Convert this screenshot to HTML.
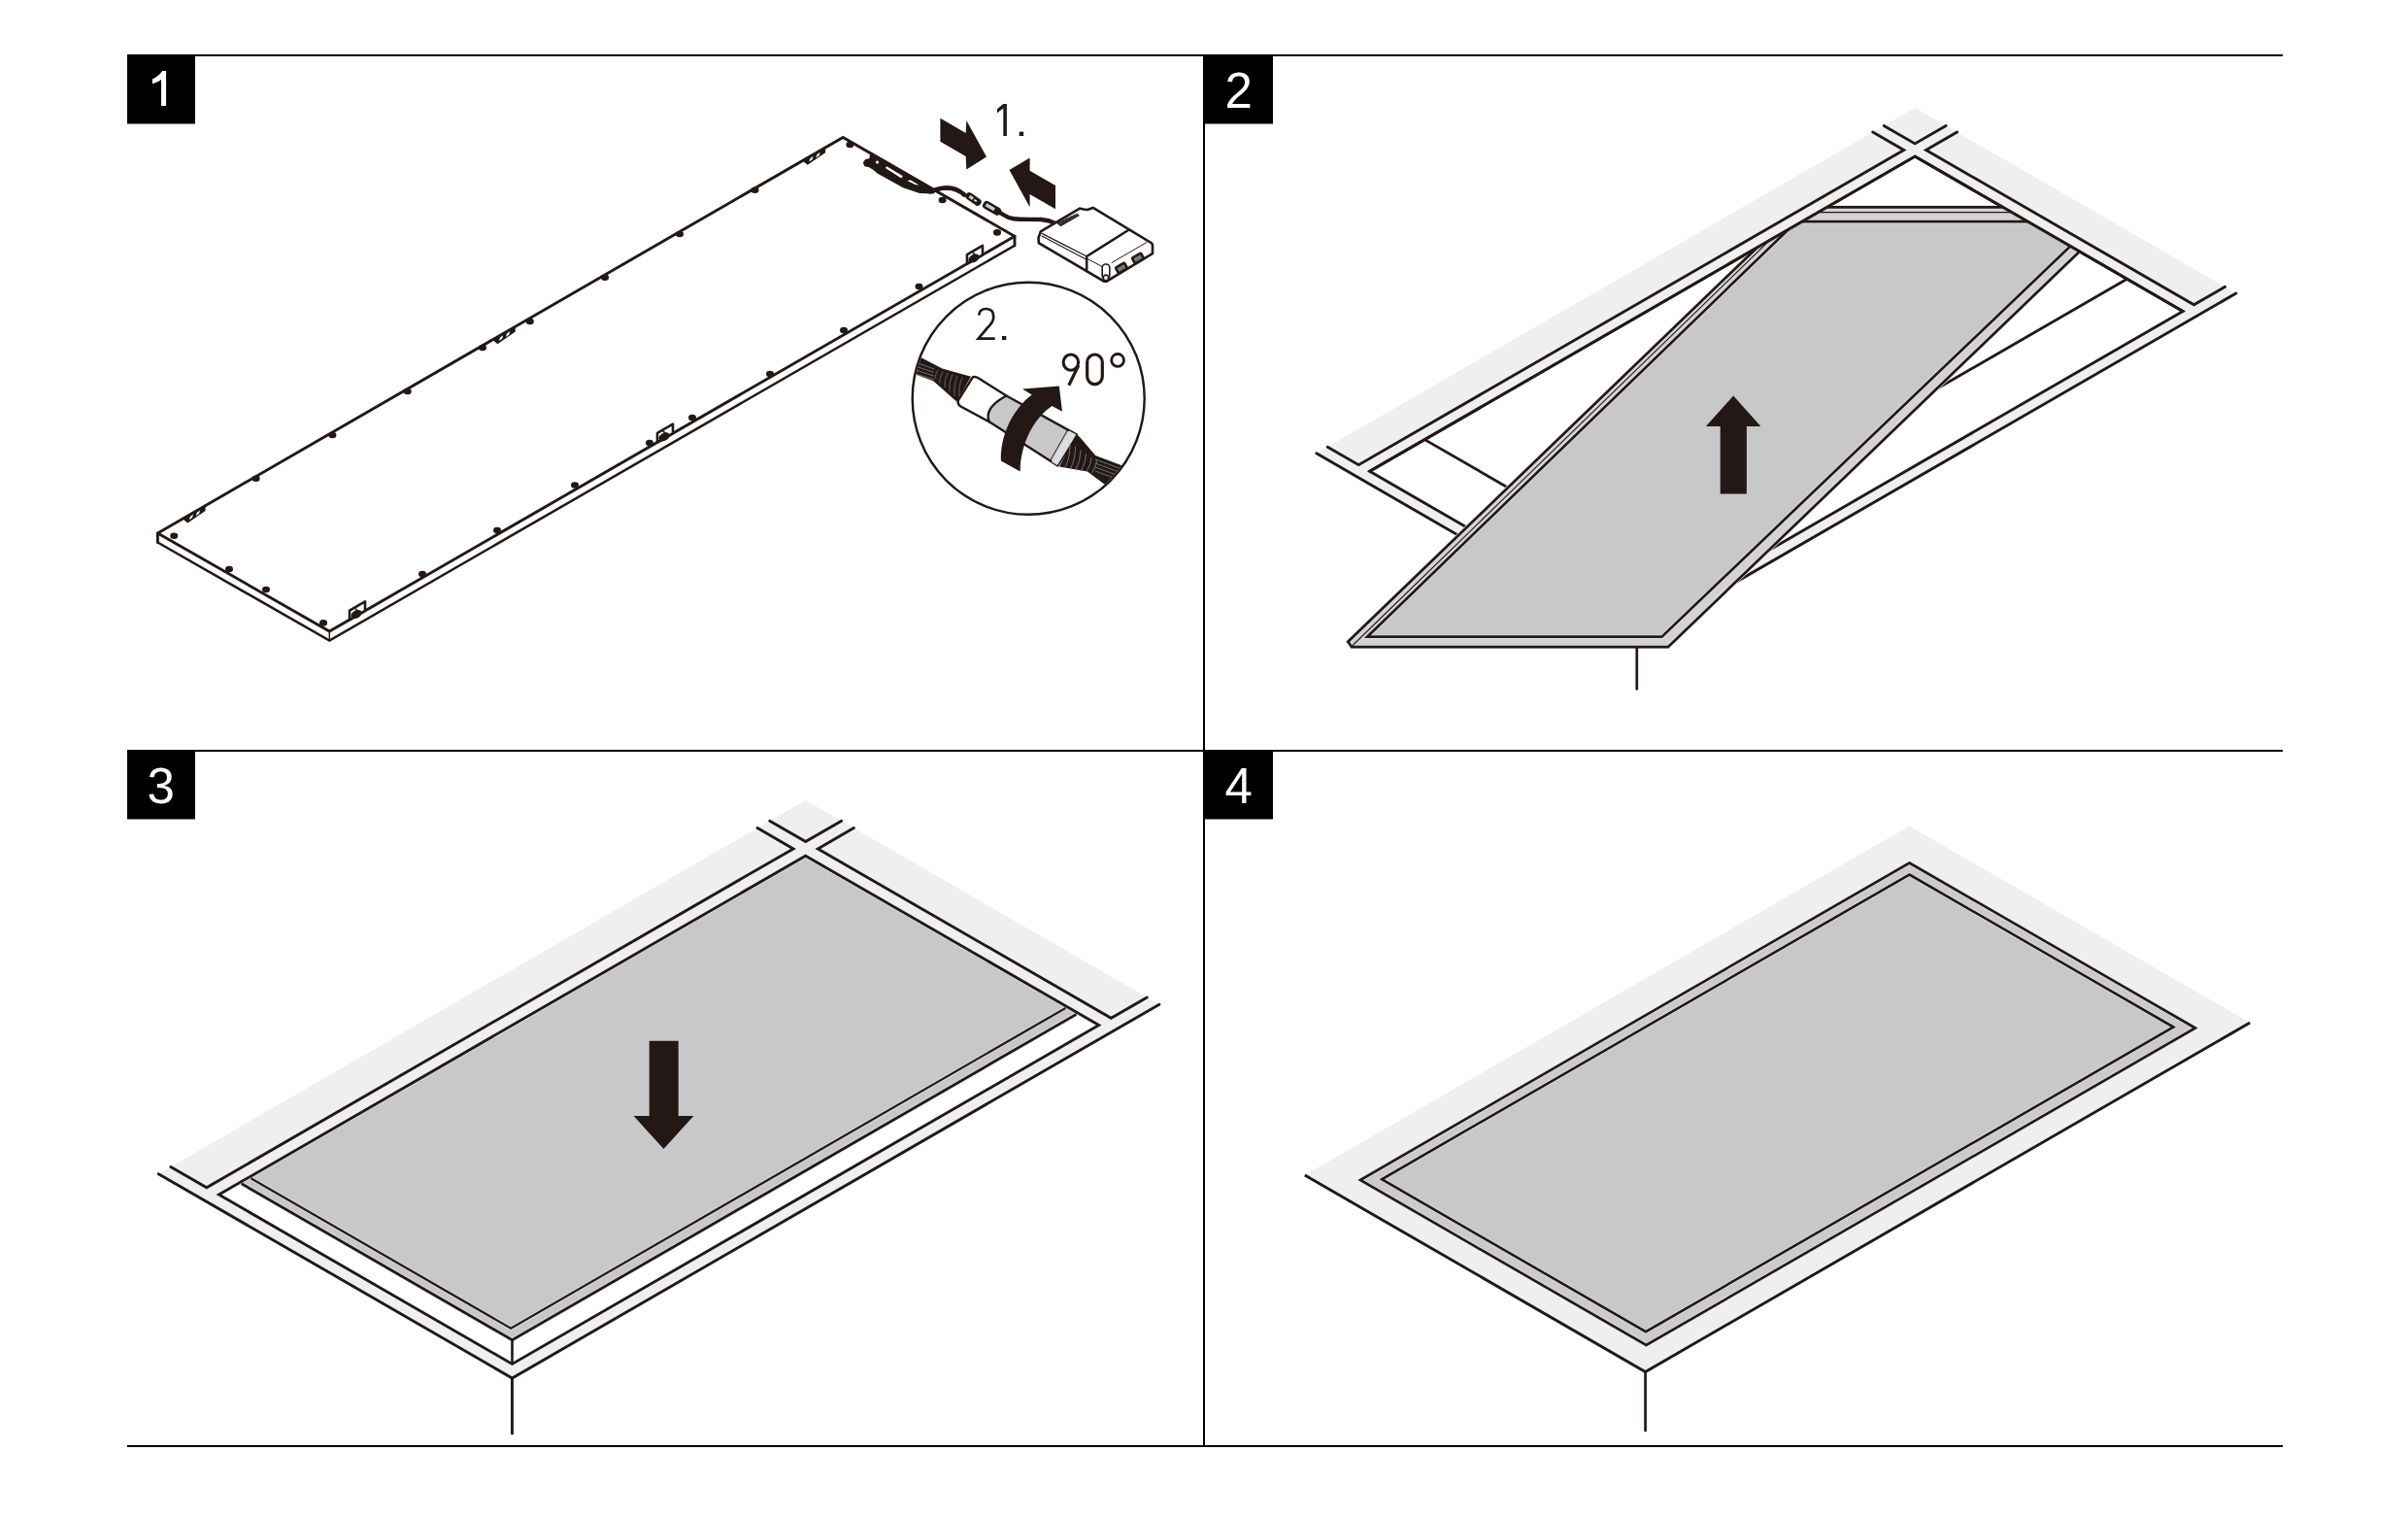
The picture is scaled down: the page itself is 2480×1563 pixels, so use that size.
<!DOCTYPE html><html><head><meta charset="utf-8"><style>html,body{margin:0;padding:0;background:#fff;overflow:hidden;}svg{display:block;}</style></head><body>
<svg width="2480" height="1563" viewBox="0 0 2480 1563">
<rect width="2480" height="1563" fill="#fff"/>
<polygon points="162.4,549 868.2,141.4 1045,243.3 1045,252.8 339.3,659.5 162.4,558.5" fill="#fff"/>
<polyline points="162.4,558.5 162.4,549 868.2,141.4 1045,243.3 1045,252.8" fill="none" stroke="#231815" stroke-width="2.9" stroke-linecap="round" stroke-linejoin="miter"/>
<polyline points="162.4,549 339.3,650 1045,243.3" fill="none" stroke="#231815" stroke-width="2.9" stroke-linecap="round" stroke-linejoin="miter"/>
<polyline points="162.4,558.5 339.3,659.5 1045,252.8" fill="none" stroke="#231815" stroke-width="2.5" stroke-linecap="round" stroke-linejoin="miter"/>
<polyline points="339.3,650 339.3,659.5" fill="none" stroke="#231815" stroke-width="1.4" stroke-linecap="round" stroke-linejoin="miter"/>
<ellipse cx="179.2" cy="551.7" rx="4" ry="3.3" fill="#231815"/>
<ellipse cx="236" cy="586" rx="4" ry="3.3" fill="#231815"/>
<ellipse cx="274" cy="607" rx="4" ry="3.3" fill="#231815"/>
<ellipse cx="333" cy="641.4" rx="4" ry="3.3" fill="#231815"/>
<ellipse cx="793" cy="385" rx="4" ry="3.3" fill="#231815"/>
<ellipse cx="713" cy="430" rx="4" ry="3.3" fill="#231815"/>
<ellipse cx="669" cy="456" rx="4" ry="3.3" fill="#231815"/>
<ellipse cx="592" cy="499.5" rx="4" ry="3.3" fill="#231815"/>
<ellipse cx="512" cy="546" rx="4" ry="3.3" fill="#231815"/>
<ellipse cx="435" cy="591" rx="4" ry="3.3" fill="#231815"/>
<ellipse cx="946.5" cy="295" rx="4" ry="3.3" fill="#231815"/>
<ellipse cx="869" cy="340" rx="4" ry="3.3" fill="#231815"/>
<ellipse cx="263.6" cy="492.8" rx="4" ry="3.3" fill="#231815"/>
<ellipse cx="342.4" cy="448" rx="4" ry="3.3" fill="#231815"/>
<ellipse cx="419.7" cy="403" rx="4" ry="3.3" fill="#231815"/>
<ellipse cx="497" cy="358" rx="4" ry="3.3" fill="#231815"/>
<ellipse cx="545.8" cy="331" rx="4" ry="3.3" fill="#231815"/>
<ellipse cx="623" cy="285.8" rx="4" ry="3.3" fill="#231815"/>
<ellipse cx="700" cy="241" rx="4" ry="3.3" fill="#231815"/>
<ellipse cx="777.5" cy="195.7" rx="4" ry="3.3" fill="#231815"/>
<ellipse cx="875.4" cy="149" rx="4" ry="3.3" fill="#231815"/>
<ellipse cx="970.6" cy="206" rx="4" ry="3.3" fill="#231815"/>
<ellipse cx="1027" cy="239.4" rx="4" ry="3.3" fill="#231815"/>
<polygon points="188.8,533.75 210.8,521.05 210.8,525.55 193.3,537.66" fill="#231815" stroke="#231815" stroke-width="1.5" stroke-linejoin="miter"/>
<polygon points="195.8,531.91 199,529.46 198,533.04 194.8,535.29" fill="#fff"/>
<polygon points="202.8,527.87 206,525.42 205,529 201.8,531.25" fill="#fff"/>
<polygon points="508,349.42 530,336.71 530,341.21 512.5,353.32" fill="#231815" stroke="#231815" stroke-width="1.5" stroke-linejoin="miter"/>
<polygon points="515,347.57 518.2,345.13 517.2,348.7 514,350.95" fill="#fff"/>
<polygon points="522,343.53 525.2,341.08 524.2,344.66 521,346.91" fill="#fff"/>
<polygon points="827.3,165.02 849.3,152.31 849.3,156.81 831.8,168.92" fill="#231815" stroke="#231815" stroke-width="1.5" stroke-linejoin="miter"/>
<polygon points="834.3,163.18 837.5,160.73 836.5,164.31 833.3,166.55" fill="#fff"/>
<polygon points="841.3,159.13 844.5,156.69 843.5,160.26 840.3,162.51" fill="#fff"/>
<polygon points="360,638.07 360,628.57 376,619.35 376,628.85" fill="#fff" stroke="#231815" stroke-width="2.6" stroke-linejoin="round"/>
<ellipse cx="367" cy="632.54" rx="6" ry="4" transform="rotate(-30 367 632.54)" fill="#231815"/>
<line x1="366" y1="626.46" x2="369" y2="629.96" stroke="#231815" stroke-width="1.6"/>
<polygon points="677,455.38 677,445.88 693,436.66 693,446.16" fill="#fff" stroke="#231815" stroke-width="2.6" stroke-linejoin="round"/>
<ellipse cx="684" cy="449.85" rx="6" ry="4" transform="rotate(-30 684 449.85)" fill="#231815"/>
<line x1="683" y1="443.77" x2="686" y2="447.27" stroke="#231815" stroke-width="1.6"/>
<polygon points="996,271.54 996,262.04 1012,252.82 1012,262.32" fill="#fff" stroke="#231815" stroke-width="2.6" stroke-linejoin="round"/>
<ellipse cx="1003" cy="266" rx="6" ry="4" transform="rotate(-30 1003 266)" fill="#231815"/>
<line x1="1002" y1="259.93" x2="1005" y2="263.43" stroke="#231815" stroke-width="1.6"/>
<polygon points="896,156.02 955,190.03 962,195.8 962,199.6 947,199 930,193.2 903.5,178.6 899.5,175 895,172.3 890.5,171.2 888.8,167.5 891,164.3 895.5,163" fill="#231815"/>
<polygon points="911.9,172.9 913.2,171.3 929.8,181.2 928.2,183.6" fill="#fff"/>
<polygon points="934.5,186.2 937.5,185.2 946.4,190.5 943.1,190.2" fill="#fff"/>
<circle cx="903.5" cy="167" r="1.6" fill="#fff"/>
<path d="M958,197.3 C964,195.5 968,193.4 975,193.4 C983,193.6 988,196 993,200.5" fill="none" stroke="#231815" stroke-width="4.6" stroke-linecap="round"/>
<g transform="translate(1002.5,205) rotate(35)"><rect x="-9" y="-3.8" width="18" height="7.6" rx="3.6" fill="#231815"/><rect x="-5" y="-1.6" width="4.5" height="3.2" fill="#ccc"/><rect x="1" y="-0.8" width="3" height="1.6" fill="#fff"/></g>
<g transform="translate(1021.5,214.3) rotate(30)"><rect x="-10" y="-4.2" width="20" height="8.4" rx="3.2" fill="#231815"/><rect x="-7" y="-1.7" width="10" height="3.4" fill="#ccc"/></g>
<path d="M1029.5,218.8 C1034,221 1036,224.3 1044,225.3 C1052,226.2 1062,225.6 1072,226 C1078,226.4 1082,227.5 1087,230" fill="none" stroke="#231815" stroke-width="4.4" stroke-linecap="round"/>
<polygon points="968.4,121.8 994.7,136.9 995.3,124 1016,161.5 995.3,174.4 994.7,161 968.4,145.8" fill="#231815"/>
<polygon points="1039.5,175.1 1060.6,162.6 1060.6,175.8 1087,190.9 1087,215.3 1060.6,200.1 1060.6,213.3" fill="#231815"/>
<path d="M1033.2,107.1 L1036.9,107.1 L1036.9,140 L1033.3,140 L1033.3,111.6 L1027,116.3 L1027,112.3 Z" fill="#231815"/>
<rect x="1049.7" y="135.6" width="4.5" height="4.4" fill="#231815"/>
<polygon points="1071.8,238.3 1112,214.6 1116,215.5 1120,216 1125.8,214 1185.8,250.2 1187,252 1187,261 1139.7,289.7 1137,289.7 1069.8,250.2 1069.5,245" fill="#fff" stroke="#231815" stroke-width="2.6" stroke-linejoin="miter"/>
<polyline points="1119.2,264 1162,237" fill="none" stroke="#231815" stroke-width="2.6" stroke-linecap="round" stroke-linejoin="miter"/>
<polyline points="1073,240.3 1119.2,264" fill="none" stroke="#231815" stroke-width="1.3" stroke-linecap="round" stroke-linejoin="miter"/>
<polyline points="1073,243 1118.5,267" fill="none" stroke="#231815" stroke-width="1.1" stroke-linecap="round" stroke-linejoin="miter"/>
<polyline points="1119.2,264 1119.2,278" fill="none" stroke="#231815" stroke-width="2.5" stroke-linecap="round" stroke-linejoin="miter"/>
<polyline points="1120,266.5 1135,274.5" fill="none" stroke="#231815" stroke-width="1" stroke-linecap="round" stroke-linejoin="miter"/>
<polyline points="1145,270.5 1181,249.5" fill="none" stroke="#231815" stroke-width="1" stroke-linecap="round" stroke-linejoin="miter"/>
<polygon points="1087.7,229.5 1109.4,219.8 1112,221.9 1092.3,233.2" fill="#2a2220"/>
<line x1="1091" y1="231.5" x2="1094.5" y2="226" stroke="#777" stroke-width="0.6"/>
<line x1="1095" y1="229.7" x2="1098.5" y2="224.2" stroke="#777" stroke-width="0.6"/>
<line x1="1099" y1="227.9" x2="1102.5" y2="222.4" stroke="#777" stroke-width="0.6"/>
<line x1="1103" y1="226.1" x2="1106.5" y2="220.6" stroke="#777" stroke-width="0.6"/>
<line x1="1107" y1="224.3" x2="1110.5" y2="218.8" stroke="#777" stroke-width="0.6"/>
<g transform="translate(1155,276) rotate(-30)"><rect x="-6.5" y="-4.5" width="13" height="9" rx="2" fill="#231815"/><rect x="-4" y="-2" width="8" height="4" fill="#777"/></g>
<g transform="translate(1172,266) rotate(-30)"><rect x="-6.5" y="-4.5" width="13" height="9" rx="2" fill="#231815"/><rect x="-4" y="-2" width="8" height="4" fill="#777"/></g>
<g transform="translate(1139,281)"><rect x="-3.8" y="-9" width="7.6" height="15" rx="3.5" fill="#fff" stroke="#231815" stroke-width="1.6"/><circle cx="0" cy="5" r="2.8" fill="#fff" stroke="#231815" stroke-width="1.8"/></g>
<circle cx="1059.2" cy="410.3" r="119.5" fill="#fff" stroke="#231815" stroke-width="2.4"/>
<clipPath id="cc"><circle cx="1059.2" cy="410.3" r="118.3"/></clipPath>
<g clip-path="url(#cc)">
<path d="M930,364 L947.4,367.4 L970.4,379.4 L1000,387.7 L985.2,413.5 L961.2,392.3 L943.7,385.8 L928,384 Z" fill="#231815"/>
<line x1="932" y1="369" x2="962" y2="380" stroke="#888" stroke-width="0.8"/>
<line x1="932" y1="373.2" x2="962" y2="383.6" stroke="#888" stroke-width="0.8"/>
<line x1="932" y1="377.4" x2="962" y2="387.2" stroke="#888" stroke-width="0.8"/>
<line x1="932" y1="381.6" x2="962" y2="390.8" stroke="#888" stroke-width="0.8"/>
<path d="M966,381 q-4,8 -3,9" fill="none" stroke="#777" stroke-width="0.8"/>
<path d="M971,382.5 q-4,8 -3,12" fill="none" stroke="#777" stroke-width="0.8"/>
<path d="M976,384 q-4,8 -3,15" fill="none" stroke="#777" stroke-width="0.8"/>
<path d="M981,385.5 q-4,8 -3,18" fill="none" stroke="#777" stroke-width="0.8"/>
<path d="M986,387 q-4,8 -3,21" fill="none" stroke="#777" stroke-width="0.8"/>
<path d="M991,388.5 q-4,8 -3,24" fill="none" stroke="#777" stroke-width="0.8"/>
<path d="M1002,388.2 Q1005,387.5 1008,389.5 L1036.5,407.5 L1018.8,434.2 L989.5,418.5 Q985,415.5 987.5,411 Z" fill="#fff" stroke="#231815" stroke-width="2.4" stroke-linejoin="round"/>
<path d="M1036.5,407.5 L1109,447.6 L1089.4,479.4 L1018.8,434.2 Q1013,420 1036.5,407.5 Z" fill="#c8c8ca" stroke="#231815" stroke-width="2.4" stroke-linejoin="round"/>
<path d="M1101,443.5 L1108.5,447.5 L1089,479 L1083,475.5 Z" fill="#dedee0"/>
<line x1="1099.5" y1="442.8" x2="1081.5" y2="474.5" stroke="#231815" stroke-width="1"/>
<path d="M1108.5,447 L1112,450 L1128.2,468.9 L1160,481 L1160,500 L1137.4,498.4 L1119.9,485.5 L1091,480.5 Z" fill="#231815"/>
<path d="M1097,481 q5,-9 5,-25" fill="none" stroke="#888" stroke-width="0.8"/>
<path d="M1102.5,482.2 q5,-9 5,-22.5" fill="none" stroke="#888" stroke-width="0.8"/>
<path d="M1108,483.4 q5,-9 5,-20" fill="none" stroke="#888" stroke-width="0.8"/>
<path d="M1113.5,484.6 q5,-9 5,-17.5" fill="none" stroke="#888" stroke-width="0.8"/>
<path d="M1119,485.8 q5,-9 5,-15" fill="none" stroke="#888" stroke-width="0.8"/>
<path d="M1124.5,487 q5,-9 5,-12.5" fill="none" stroke="#888" stroke-width="0.8"/>
<line x1="1128" y1="473" x2="1158" y2="484" stroke="#888" stroke-width="0.8"/>
<line x1="1128" y1="477" x2="1158" y2="488" stroke="#888" stroke-width="0.8"/>
<line x1="1128" y1="481" x2="1158" y2="492" stroke="#888" stroke-width="0.8"/>
<line x1="1128" y1="485" x2="1158" y2="496" stroke="#888" stroke-width="0.8"/>
<path d="M1030.9,474.4 C1030,450 1042,422 1062.7,406.6 L1053,400.6 L1090.8,397.4 L1094,423.7 L1083.4,418.1 C1066,430 1051,455 1050.7,485.5 Z" fill="#231815"/>
</g>
<path d="M1008.2,324.7 C1008.5,319.5 1012,318 1015.8,318 C1020.5,318 1023.3,321 1023.3,326.4 C1023.3,331 1020,334.5 1017,337.5 L1007.6,348.6 L1024.7,348.6" fill="none" stroke="#231815" stroke-width="2.7" stroke-linejoin="miter"/>
<rect x="1032" y="346" width="4.3" height="4.1" fill="#231815"/>
<ellipse cx="1102.9" cy="373.1" rx="7.7" ry="8.1" fill="none" stroke="#231815" stroke-width="3.1"/>
<line x1="1110.6" y1="376.5" x2="1100.8" y2="396.8" stroke="#231815" stroke-width="3.2"/>
<rect x="1119.7" y="365" width="15.6" height="30.6" rx="7.8" fill="none" stroke="#231815" stroke-width="3.2"/>
<circle cx="1151.1" cy="370.9" r="6.4" fill="none" stroke="#231815" stroke-width="2.8"/>
<polygon points="1972.2,111 2302.93,301.95 1686.58,657.8 1355.85,466.85" fill="#efefef"/>
<polygon points="1972.2,161.1 2248.12,320.4 1686.58,644.6 1410.67,485.3" fill="#fff"/>
<polyline points="1467.31,452.6 1743.22,611.9" fill="none" stroke="#231815" stroke-width="2.8" stroke-linecap="round" stroke-linejoin="miter"/>
<polyline points="2190.61,287.2 1629.08,611.4" fill="none" stroke="#231815" stroke-width="2.8" stroke-linecap="round" stroke-linejoin="miter"/>
<polyline points="1355.85,466.85 1686.58,657.8 2302.93,301.95" fill="none" stroke="#231815" stroke-width="2.9" stroke-linecap="round" stroke-linejoin="miter"/>
<polyline points="1940.24,129.45 1972.2,147.9 2004.16,129.45" fill="none" stroke="#231815" stroke-width="2.9" stroke-linecap="round" stroke-linejoin="miter"/>
<polyline points="1928.81,136.05 1960.77,154.5 1399.24,478.7 1367.28,460.25" fill="none" stroke="#231815" stroke-width="2.9" stroke-linecap="round" stroke-linejoin="miter"/>
<polyline points="2015.59,136.05 1983.63,154.5 2259.55,313.8 2291.5,295.35" fill="none" stroke="#231815" stroke-width="2.9" stroke-linecap="round" stroke-linejoin="miter"/>
<polygon points="1972.2,161.1 2248.12,320.4 1686.58,644.6 1410.67,485.3" fill="none" stroke="#231815" stroke-width="2.9" stroke-linejoin="miter"/>
<polyline points="1686.58,657.8 1686.58,657.8" fill="none" stroke="#231815" stroke-width="2.9" stroke-linecap="round" stroke-linejoin="miter"/>
<clipPath id="cp2"><polygon points="1972.2,161.1 -620.16,1657.8 0,3000 3000,3000 4564.56,1657.8"/></clipPath>
<g clip-path="url(#cp2)">
<polygon points="1388.3,660.7 1392.2,666.2 1717.9,666.2 2189.18,213.3 1852.89,213.3" fill="#d3d3d5"/>
<polyline points="1388.3,660.7 1392.2,666.2 1717.9,666.2 2189.18,213.3 1852.89,213.3 1388.3,660.7 1392.2,666.2" fill="none" stroke="#e6e6e8" stroke-width="4.1" stroke-linecap="butt" stroke-linejoin="miter"/>
<polyline points="1388.3,660.7 1392.2,666.2 1717.9,666.2 2189.18,213.3 1852.89,213.3 1388.3,660.7 1392.2,666.2" fill="none" stroke="#231815" stroke-width="2.7" stroke-linecap="butt" stroke-linejoin="miter"/>
<polygon points="1408.1,655.7 1711.5,655.7 2158.68,228.2 1850.16,228.2" fill="#c8c8ca"/>
<polyline points="1408.1,655.7 1711.5,655.7 2158.68,228.2 1850.16,228.2 1408.1,655.7 1711.5,655.7" fill="none" stroke="#e6e6e8" stroke-width="4.1" stroke-linecap="butt" stroke-linejoin="miter"/>
<polyline points="1408.1,655.7 1711.5,655.7 2158.68,228.2 1850.16,228.2 1408.1,655.7 1711.5,655.7" fill="none" stroke="#231815" stroke-width="2.7" stroke-linecap="butt" stroke-linejoin="miter"/>
<polyline points="1393.1,664.5 1857.69,213.3" fill="none" stroke="#231815" stroke-width="1.1" stroke-linecap="round" stroke-linejoin="miter"/>
<polyline points="1847.39,218.6 2183.66,218.6" fill="none" stroke="#231815" stroke-width="1.4" stroke-linecap="round" stroke-linejoin="miter"/>
</g>
<polyline points="1685.8,666.5 1685.8,709.5" fill="none" stroke="#231815" stroke-width="2.7" stroke-linecap="round" stroke-linejoin="miter"/>
<polyline points="1410.67,485.3 1972.2,161.1 2248.12,320.4" fill="none" stroke="#231815" stroke-width="2.9" stroke-linecap="round" stroke-linejoin="miter"/>
<polygon points="1771.7,508.6 1771.7,439 1756.9,439 1785.2,407.6 1813.4,439 1798.9,439 1798.9,508.6" fill="#231815"/>
<polygon points="829.7,823.9 1193.95,1034.2 527.46,1419 163.21,1208.7" fill="#efefef"/>
<polygon points="829.7,881.2 1131.68,1055.55 527.46,1404.4 225.47,1230.05" fill="#fff"/>
<polygon points="829.7,883.4 1108.47,1044.35 527.54,1379.75 248.77,1218.8" fill="#c8c8ca"/>
<polyline points="163.21,1208.7 527.46,1419 1193.95,1034.2" fill="none" stroke="#231815" stroke-width="2.9" stroke-linecap="round" stroke-linejoin="miter"/>
<polyline points="792.72,845.25 829.7,866.6 866.68,845.25" fill="none" stroke="#231815" stroke-width="2.9" stroke-linecap="round" stroke-linejoin="miter"/>
<polyline points="780.08,852.55 817.06,873.9 212.83,1222.75 175.85,1201.4" fill="none" stroke="#231815" stroke-width="2.9" stroke-linecap="round" stroke-linejoin="miter"/>
<polyline points="879.32,852.55 842.34,873.9 1144.33,1048.25 1181.31,1026.9" fill="none" stroke="#231815" stroke-width="2.9" stroke-linecap="round" stroke-linejoin="miter"/>
<polyline points="527.46,1419 527.46,1476" fill="none" stroke="#231815" stroke-width="2.9" stroke-linecap="round" stroke-linejoin="miter"/>
<polyline points="258.47,1213.2 526.16,1367.75 1097.39,1037.95" fill="none" stroke="#e6e6e8" stroke-width="3.7" stroke-linecap="butt" stroke-linejoin="miter"/>
<polyline points="258.47,1213.2 526.16,1367.75 1097.39,1037.95" fill="none" stroke="#231815" stroke-width="2.3" stroke-linecap="butt" stroke-linejoin="miter"/>
<polyline points="248.77,1218.8 527.54,1379.75 1108.47,1044.35" fill="none" stroke="#e6e6e8" stroke-width="4.2" stroke-linecap="butt" stroke-linejoin="miter"/>
<polyline points="248.77,1218.8 527.54,1379.75 1108.47,1044.35" fill="none" stroke="#231815" stroke-width="2.8" stroke-linecap="butt" stroke-linejoin="miter"/>
<polygon points="829.7,881.2 1131.68,1055.55 527.46,1404.4 225.47,1230.05" fill="none" stroke="#231815" stroke-width="2.9" stroke-linejoin="miter"/>
<polyline points="527.54,1379.75 527.46,1404.4" fill="none" stroke="#231815" stroke-width="2.6" stroke-linecap="butt" stroke-linejoin="miter"/>
<polygon points="668.7,1071.8 698.7,1071.8 698.7,1149 714.4,1149 683.5,1183.1 652.6,1149 668.7,1149" fill="#231815"/>
<polygon points="1966.5,850.5 2317.24,1053 1694.57,1412.5 1343.83,1210" fill="#efefef"/>
<polygon points="1966.5,888.5 2260.95,1058.5 1695.43,1385 1400.99,1215" fill="#cbcbcd"/>
<polyline points="1966.5,888.5 2260.95,1058.5 1695.43,1385 1400.99,1215 1966.5,888.5 2260.95,1058.5" fill="none" stroke="#e6e6e8" stroke-width="4" stroke-linecap="butt" stroke-linejoin="miter"/>
<polyline points="1966.5,888.5 2260.95,1058.5 1695.43,1385 1400.99,1215 1966.5,888.5 2260.95,1058.5" fill="none" stroke="#231815" stroke-width="2.6" stroke-linecap="butt" stroke-linejoin="miter"/>
<polygon points="1966.5,900.5 2238.43,1057.5 1695,1371.25 1423.07,1214.25" fill="#c8c8ca"/>
<polyline points="1966.5,900.5 2238.43,1057.5 1695,1371.25 1423.07,1214.25 1966.5,900.5 2238.43,1057.5" fill="none" stroke="#e6e6e8" stroke-width="4" stroke-linecap="butt" stroke-linejoin="miter"/>
<polyline points="1966.5,900.5 2238.43,1057.5 1695,1371.25 1423.07,1214.25 1966.5,900.5 2238.43,1057.5" fill="none" stroke="#231815" stroke-width="2.6" stroke-linecap="butt" stroke-linejoin="miter"/>
<polyline points="1343.83,1210 1694.57,1412.5 2317.24,1053" fill="none" stroke="#231815" stroke-width="2.9" stroke-linecap="butt" stroke-linejoin="miter"/>
<polyline points="1694.57,1412.5 1694.57,1473" fill="none" stroke="#231815" stroke-width="2.7" stroke-linecap="round" stroke-linejoin="miter"/>
<rect x="131" y="56" width="2220" height="2" fill="#000"/>
<rect x="131" y="772" width="2220" height="2" fill="#000"/>
<rect x="131" y="1488" width="2220" height="2" fill="#000"/>
<rect x="1239" y="56" width="2" height="1434" fill="#000"/>
<rect x="131" y="56" width="70" height="71.5" fill="#000"/>
<path d="M167.2,73.1 L171.1,73.1 L171.1,109 L166,109 L166,82 C163.2,84.2 160,85.4 156.9,86.2 L156.9,81.6 C161,79.8 164.6,77 167.2,73.1 Z" fill="#fff"/>
<rect x="1241" y="56" width="70" height="71.5" fill="#000"/>
<text x="1275.6" y="111" style="font-family:'Liberation Sans',sans-serif" font-size="51" fill="#fff" text-anchor="middle">2</text>
<rect x="131" y="772" width="70" height="71.5" fill="#000"/>
<text x="165.6" y="827" style="font-family:'Liberation Sans',sans-serif" font-size="51" fill="#fff" text-anchor="middle">3</text>
<rect x="1241" y="772" width="70" height="71.5" fill="#000"/>
<text x="1275.6" y="827" style="font-family:'Liberation Sans',sans-serif" font-size="51" fill="#fff" text-anchor="middle">4</text>
</svg></body></html>
